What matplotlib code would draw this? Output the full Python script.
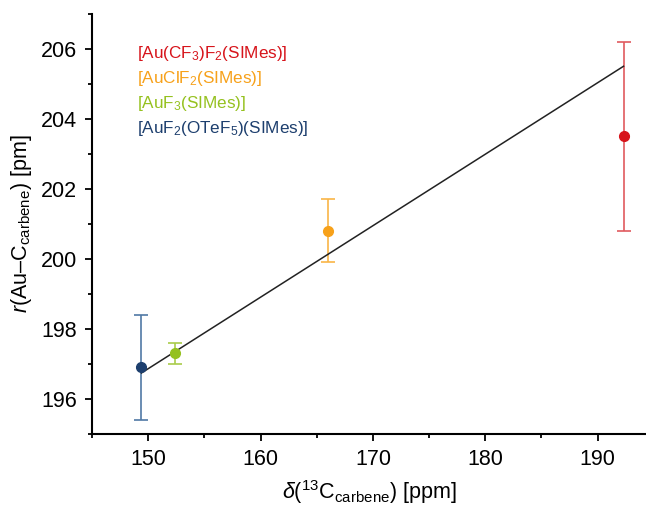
import numpy as np
import matplotlib
matplotlib.use("Agg")
import matplotlib.pyplot as plt
from matplotlib.ticker import MultipleLocator

plt.rcParams['font.family'] = ['Liberation Sans', 'DejaVu Sans']
plt.rcParams['mathtext.fontset'] = 'custom'
plt.rcParams['mathtext.rm'] = 'Liberation Sans'
plt.rcParams['mathtext.it'] = 'Liberation Sans:italic'

# data
names = ["[Au(CF$_3$)F$_2$(SIMes)]", "[AuClF$_2$(SIMes)]",
         "[AuF$_3$(SIMes)]", "[AuF$_2$(OTeF$_5$)(SIMes)]"]
shift = np.array([192.3, 166.0, 152.4, 149.4])     # delta 13C carbene [ppm]
dist = np.array([203.5, 200.8, 197.3, 196.9])      # r(Au-C) [pm]
err = np.array([2.7, 0.9, 0.3, 1.5])
colors = ["#d7141b", "#f7a11a", "#95c11f", "#1d3f6e"]
bar_colors = ["#e05a5f", "#f9b547", "#a9cc4a", "#5079a5"]

# weighted linear fit
slope, icpt = np.polyfit(shift, dist, 1, w=1 / err)

fig = plt.figure(figsize=(6.46, 5.08), dpi=100)
ax = fig.add_axes([0.1424, 0.1457, 0.8576, 0.8268])

xf = np.array([shift.min(), shift.max()])
ax.plot(xf, slope * xf + icpt, color="#222222", lw=1.1, zorder=2)

for x, y, e, c, bc in zip(shift, dist, err, colors, bar_colors):
    ax.errorbar(x, y, yerr=e, fmt="none", ecolor=bc, elinewidth=1.2,
                capsize=5, capthick=1.2, zorder=1)
    ax.plot(x, y, "o", color=c, ms=7, zorder=3)

for i, (n, c) in enumerate(zip(names, colors)):
    ax.text(0.082, 0.905 - i * 0.0595, n, color=c, fontsize=12.3,
            transform=ax.transAxes, va="center", ha="left")

ax.set_xlim(145, 194.3)
ax.set_ylim(195, 207)
ax.xaxis.set_major_locator(MultipleLocator(10))
ax.xaxis.set_minor_locator(MultipleLocator(5))
ax.yaxis.set_major_locator(MultipleLocator(2))
ax.yaxis.set_minor_locator(MultipleLocator(1))
ax.tick_params(which="major", length=5, width=1.3, labelsize=15.5, pad=6)
ax.tick_params(which="minor", length=3, width=1.3)
ax.spines["top"].set_visible(False)
ax.spines["right"].set_visible(False)
ax.spines["left"].set_linewidth(1.5)
ax.spines["bottom"].set_linewidth(1.5)

ax.set_xlabel(r"$\it{\delta}$($^{13}$C$_{\rm carbene}$) [ppm]", fontsize=15.5, labelpad=6)
ax.set_ylabel(r"$\it{r}$(Au–C$_{\rm carbene}$) [pm]", fontsize=15.5, labelpad=5)

fig.savefig("out.png", dpi=100)
